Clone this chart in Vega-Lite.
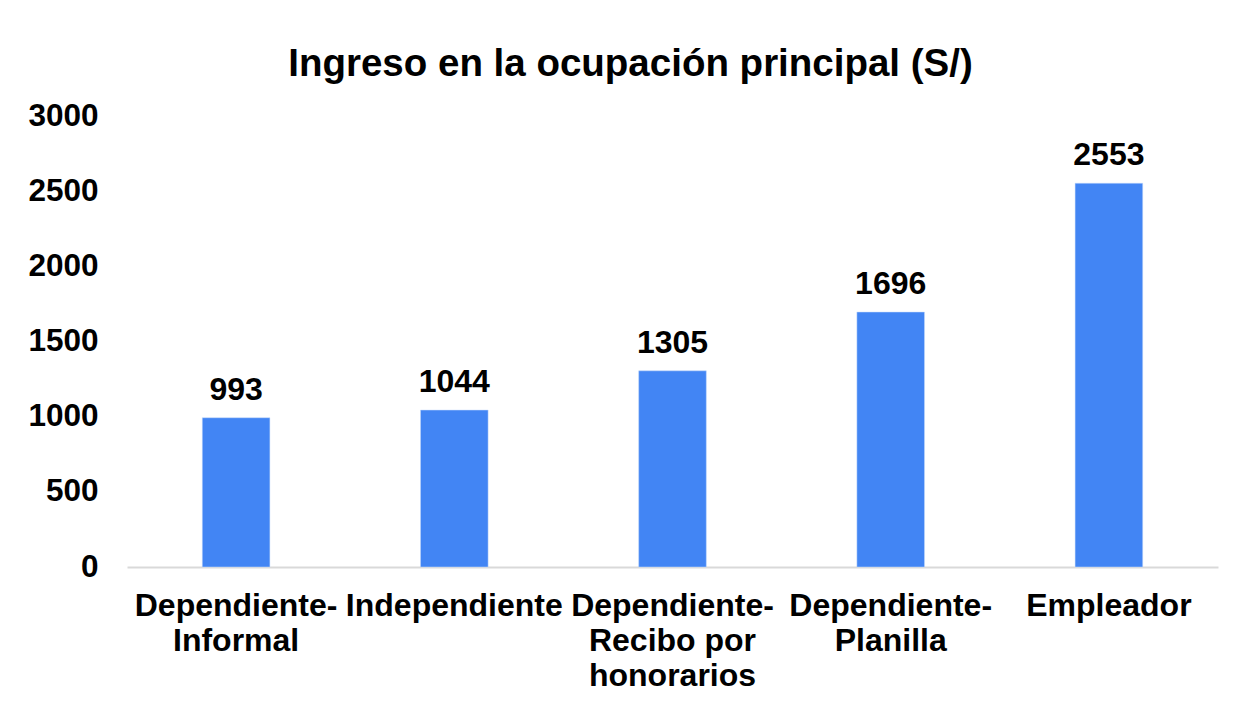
{
  "$schema": "https://vega.github.io/schema/vega-lite/v6.json",
  "width": 1091,
  "height": 451,
  "autosize": {"type": "none"},
  "padding": {"left": 127, "top": 116, "right": 16, "bottom": 137},
  "background": "white",
  "config": {
    "view": {"stroke": null},
    "font": "Liberation Sans"
  },
  "title": {
    "text": "Ingreso en la ocupación principal (S/)",
    "font": "Liberation Sans",
    "fontSize": 38.5,
    "fontWeight": "bold",
    "color": "#000000",
    "anchor": "middle",
    "baseline": "alphabetic",
    "offset": -14,
    "dx": -42
  },
  "data": {
    "values": [
      {"categoria": "Dependiente-|Informal", "ingreso": 993},
      {"categoria": "Independiente", "ingreso": 1044},
      {"categoria": "Dependiente-|Recibo por|honorarios", "ingreso": 1305},
      {"categoria": "Dependiente-|Planilla", "ingreso": 1696},
      {"categoria": "Empleador", "ingreso": 2553}
    ]
  },
  "encoding": {
    "x": {
      "field": "categoria",
      "type": "nominal",
      "sort": null,
      "scale": {"paddingInner": 0.69, "paddingOuter": 0.345},
      "axis": {
        "title": null,
        "labelAngle": 0,
        "labelExpr": "split(datum.label, '|')",
        "labelFont": "Liberation Sans",
        "labelFontSize": 32,
        "labelFontWeight": "bold",
        "labelColor": "#000000",
        "labelLineHeight": 35,
        "labelPadding": 23,
        "labelLimit": 0,
        "ticks": false,
        "domainColor": "#d9d9d9",
        "domainWidth": 2,
        "grid": false
      }
    },
    "y": {
      "field": "ingreso",
      "type": "quantitative",
      "scale": {"domain": [0, 3000]},
      "axis": {
        "title": null,
        "values": [0, 500, 1000, 1500, 2000, 2500, 3000],
        "format": "d",
        "labelFont": "Liberation Sans",
        "labelFontSize": 31.5,
        "labelFontWeight": "bold",
        "labelColor": "#000000",
        "labelPadding": 29,
        "ticks": false,
        "domain": false,
        "grid": false
      }
    }
  },
  "layer": [
    {
      "mark": {"type": "bar", "color": "#4285F4", "stroke": "#c9dcfb", "strokeWidth": 0.5}
    },
    {
      "mark": {
        "type": "text",
        "font": "Liberation Sans",
        "fontSize": 32,
        "fontWeight": "bold",
        "color": "#000000",
        "baseline": "alphabetic",
        "align": "center",
        "dy": -18
      },
      "encoding": {"text": {"field": "ingreso", "type": "quantitative", "format": "d"}}
    }
  ]
}
